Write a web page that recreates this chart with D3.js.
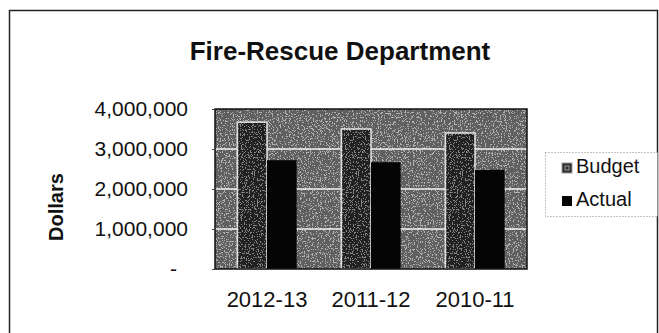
<!DOCTYPE html>
<html>
<head>
<meta charset="utf-8">
<script src="https://cdn.jsdelivr.net/npm/d3@7"></script>
<style>
  html, body { margin: 0; padding: 0; background: #fff; }
  svg { display: block; font-family: "Liberation Sans", Arial, sans-serif; }
</style>
</head>
<body>
<svg id="chart" width="659" height="333"></svg>
<script>
// Fire-Rescue Department: budget vs. actual spending by fiscal year
const years = ["2012-13", "2011-12", "2010-11"];
const seriesNames = ["Budget", "Actual"];
const budget = [3670000, 3500000, 3400000];
const actual = [2720000, 2670000, 2480000];
const yTicks = [0, 1000000, 2000000, 3000000, 4000000];

const rows = years.map((y, i) => ({ year: y, Budget: budget[i], Actual: actual[i] }));

const svg = d3.select("#chart");
const plot = { left: 215, right: 527, top: 109, bottom: 269 };

// grain used for the printed plot-area texture
const defs = svg.append("defs");
function grain(id, seed, freq, alpha) {
  const f = defs.append("filter").attr("id", id)
    .attr("x", "-2%").attr("y", "-2%").attr("width", "104%").attr("height", "104%");
  f.append("feTurbulence").attr("type", "fractalNoise").attr("baseFrequency", freq)
    .attr("numOctaves", 2).attr("seed", seed).attr("result", "noise");
  f.append("feColorMatrix").attr("in", "noise").attr("type", "matrix")
    .attr("values", "1 0 0 0 0  1 0 0 0 0  1 0 0 0 0  0 0 0 0 1").attr("result", "gray");
  const ct = f.append("feComponentTransfer").attr("in", "gray").attr("result", "speck");
  ct.append("feFuncR").attr("type", "discrete").attr("tableValues", "0 0 0 1 1");
  ct.append("feFuncG").attr("type", "discrete").attr("tableValues", "0 0 0 1 1");
  ct.append("feFuncB").attr("type", "discrete").attr("tableValues", "0 0 0 1 1");
  ct.append("feFuncA").attr("type", "discrete").attr("tableValues", `${alpha} 0 0 0 ${alpha * 0.7}`);
  f.append("feComposite").attr("in", "speck").attr("in2", "SourceGraphic").attr("operator", "in").attr("result", "clip");
  const m = f.append("feMerge");
  m.append("feMergeNode").attr("in", "SourceGraphic");
  m.append("feMergeNode").attr("in", "clip");
}
grain("grainBg", 4, 0.75, 0.45);
grain("grainBar", 9, 0.75, 0.3);

// outer chart frame
svg.append("rect")
  .attr("x", 9.5).attr("y", 10.5).attr("width", 648).attr("height", 340)
  .attr("fill", "none").attr("stroke", "#222").attr("stroke-width", 1.5);

// title
svg.append("text")
  .attr("x", 340).attr("y", 60)
  .attr("text-anchor", "middle")
  .attr("font-size", 26).attr("font-weight", "bold").attr("fill", "#111")
  .text("Fire-Rescue Department");

const x = d3.scaleBand().domain(years).range([plot.left, plot.right])
  .paddingInner(0.43).paddingOuter(0.215);
const xs = d3.scaleBand().domain(seriesNames).range([0, x.bandwidth()]);
const y = d3.scaleLinear().domain([0, 4000000]).range([plot.bottom, plot.top]);

// plot area
svg.append("rect")
  .attr("x", plot.left).attr("y", plot.top)
  .attr("width", plot.right - plot.left).attr("height", plot.bottom - plot.top)
  .attr("fill", "#747474").attr("filter", "url(#grainBg)");

// gridlines
svg.append("g")
  .selectAll("line")
  .data(yTicks.filter(d => d > 0 && d < 4000000))
  .join("line")
  .attr("x1", plot.left).attr("x2", plot.right)
  .attr("y1", d => y(d)).attr("y2", d => y(d))
  .attr("stroke", "#f2f2f2").attr("stroke-width", 1.5);

// bars
const colors = { Budget: "#2c2c2c", Actual: "#050505" };
const groups = svg.append("g").selectAll("g")
  .data(rows).join("g")
  .attr("transform", d => `translate(${x(d.year)},0)`);

groups.selectAll("rect")
  .data(d => seriesNames.map(k => ({ key: k, value: d[k] })))
  .join("rect")
  .attr("x", d => xs(d.key))
  .attr("y", d => y(d.value))
  .attr("width", xs.bandwidth())
  .attr("height", d => y(0) - y(d.value))
  .attr("fill", d => colors[d.key])
  .attr("stroke", d => d.key === "Budget" ? "#eeeeee" : "none")
  .attr("stroke-width", 1.6)
  .attr("filter", d => d.key === "Budget" ? "url(#grainBar)" : null);

// plot frame
svg.append("rect")
  .attr("x", plot.left).attr("y", plot.top)
  .attr("width", plot.right - plot.left).attr("height", plot.bottom - plot.top)
  .attr("fill", "none").attr("stroke", "#111").attr("stroke-width", 1.5);

// y axis
const yAxis = svg.append("g")
  .attr("transform", `translate(${plot.left},0)`)
  .call(d3.axisLeft(y).tickValues(yTicks)
    .tickFormat(d => d === 0 ? "-" : d3.format(",")(d))
    .tickSize(3).tickPadding(24));
yAxis.select(".domain").remove();
yAxis.selectAll(".tick line").attr("stroke", "#444");
yAxis.selectAll(".tick text")
  .attr("font-size", 21).attr("fill", "#111")
  .attr("font-family", "'Liberation Sans', Arial, sans-serif");
yAxis.selectAll(".tick").filter(d => d === 0).select("text").attr("x", -38);

// x axis
const xAxis = svg.append("g")
  .attr("transform", `translate(0,${plot.bottom})`)
  .call(d3.axisBottom(x).tickSize(0).tickPadding(22));
xAxis.select(".domain").remove();
xAxis.selectAll(".tick text")
  .attr("font-size", 22).attr("fill", "#111")
  .attr("font-family", "'Liberation Sans', Arial, sans-serif");

// y axis title
svg.append("text")
  .attr("transform", "translate(63,207) rotate(-90)")
  .attr("text-anchor", "middle")
  .attr("font-size", 20).attr("font-weight", "bold").attr("fill", "#111")
  .text("Dollars");

// legend
const legend = svg.append("g");
legend.append("rect")
  .attr("x", 545.5).attr("y", 152.5).attr("width", 112).attr("height", 64)
  .attr("fill", "#fff").attr("stroke", "#888").attr("stroke-dasharray", "1,2");
const items = legend.selectAll("g.item")
  .data(seriesNames).join("g").attr("class", "item")
  .attr("transform", (d, i) => `translate(562,${163 + i * 33})`);
items.append("rect")
  .attr("width", 10).attr("height", 10)
  .attr("fill", d => colors[d])
  .attr("stroke", d => d === "Budget" ? "#999" : "none")
  .attr("stroke-width", 1);
items.filter(d => d === "Budget").append("rect")
  .attr("x", 3).attr("y", 3).attr("width", 4).attr("height", 4)
  .attr("fill", "none").attr("stroke", "#bbb").attr("stroke-width", 0.8);
items.append("text")
  .attr("x", 14).attr("y", 10)
  .attr("font-size", 20).attr("fill", "#111")
  .text(d => d);
</script>
</body>
</html>
